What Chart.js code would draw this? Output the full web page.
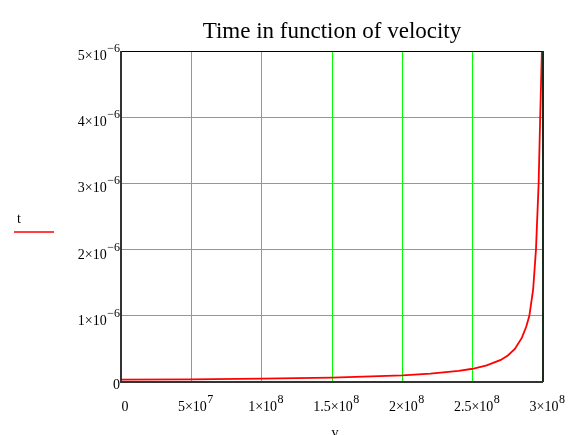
<!DOCTYPE html>
<html>
<head>
<meta charset="utf-8">
<script src="https://cdn.jsdelivr.net/npm/chart.js@4/dist/chart.umd.min.js"></script>
<style>
  html, body { margin: 0; padding: 0; background: #fff; }
  #chart { display: block; }
</style>
</head>
<body>
<canvas id="chart" width="571" height="435"></canvas>
<script>
// values
var velocity = [0, 0.5e8, 1e8, 1.5e8, 2e8, 2.2e8, 2.4e8, 2.5e8, 2.6e8, 2.7e8, 2.75e8, 2.8e8,
                2.85e8, 2.88e8, 2.903e8, 2.93e8, 2.95e8, 2.969e8, 2.98e8, 2.992e8];
var time = [0.035e-6, 0.04e-6, 0.05e-6, 0.067e-6, 0.10e-6, 0.125e-6, 0.167e-6, 0.2e-6, 0.25e-6,
            0.333e-6, 0.4e-6, 0.5e-6, 0.67e-6, 0.83e-6, 1.0e-6, 1.4e-6, 2.0e-6, 3.0e-6, 4.0e-6, 5.0e-6];

var xTicks = [0, 0.5e8, 1e8, 1.5e8, 2e8, 2.5e8, 3e8];
var xTickBase = ['0', '5\u00d710', '1\u00d710', '1.5\u00d710', '2\u00d710', '2.5\u00d710', '3\u00d710'];
var xTickExp = ['', '7', '8', '8', '8', '8', '8'];
var yTicks = [0, 1e-6, 2e-6, 3e-6, 4e-6, 5e-6];
var yTickBase = ['0', '1\u00d710', '2\u00d710', '3\u00d710', '4\u00d710', '5\u00d710'];
var yTickExp = ['', '\u22126', '\u22126', '\u22126', '\u22126', '\u22126'];

var titleText = 'Time in function of velocity';
var xTitle = 'v';
var seriesName = 't';

var serif = '"Liberation Serif", "Times New Roman", serif';

var points = velocity.map(function(v, i) { return { x: v, y: time[i] }; });

// draws title, tick labels with superscripts, frame and the little legend
var mathcadLabels = {
  id: 'mathcadLabels',
  afterDraw: function(c) {
    var ctx = c.ctx;
    var a = c.chartArea;
    var xs = c.scales.x, ys = c.scales.y;
    ctx.save();

    // frame
    ctx.lineWidth = 1;
    ctx.strokeStyle = '#000';
    ctx.beginPath();
    ctx.moveTo(a.left, a.top + 0.5);
    ctx.lineTo(a.right, a.top + 0.5);
    ctx.stroke();
    ctx.lineWidth = 2;
    ctx.strokeStyle = '#1c2a1c';
    ctx.beginPath();
    ctx.moveTo(a.right, a.top);
    ctx.lineTo(a.right, a.bottom);
    ctx.stroke();
    ctx.strokeStyle = '#333';
    ctx.beginPath();
    ctx.moveTo(a.left, a.top);
    ctx.lineTo(a.left, a.bottom);
    ctx.lineTo(a.right, a.bottom);
    ctx.stroke();

    ctx.fillStyle = '#000';
    ctx.textBaseline = 'alphabetic';

    // title
    ctx.font = '23px ' + serif;
    ctx.textAlign = 'center';
    ctx.fillText(titleText, (a.left + a.right) / 2, 38);

    // x tick labels
    xTicks.forEach(function(v, i) {
      var px = xs.getPixelForValue(v);
      ctx.font = '14px ' + serif;
      var wb = ctx.measureText(xTickBase[i]).width;
      ctx.font = '12px ' + serif;
      var we = ctx.measureText(xTickExp[i]).width;
      var left = px + 4 - (wb + we) / 2;
      ctx.textAlign = 'left';
      ctx.font = '14px ' + serif;
      ctx.fillText(xTickBase[i], left, 411);
      ctx.font = '12px ' + serif;
      ctx.fillText(xTickExp[i], left + wb + 0.5, 403);
    });

    // y tick labels
    yTicks.forEach(function(v, i) {
      var py = ys.getPixelForValue(v);
      ctx.textAlign = 'right';
      if (!yTickExp[i]) {
        ctx.font = '14px ' + serif;
        ctx.fillText(yTickBase[i], 120, py + 7);
        return;
      }
      ctx.font = '12px ' + serif;
      var we = ctx.measureText(yTickExp[i]).width;
      ctx.fillText(yTickExp[i], 120, py + 1);
      ctx.font = '14px ' + serif;
      ctx.fillText(yTickBase[i], 120 - we - 0.5, py + 9);
    });

    // axis title
    ctx.font = '14px ' + serif;
    ctx.textAlign = 'center';
    ctx.fillText(xTitle, 335, 437);

    // legend at the left
    ctx.fillText(seriesName, 19, 223);
    ctx.strokeStyle = '#ff0000';
    ctx.lineWidth = 1.5;
    ctx.beginPath();
    ctx.moveTo(14, 232);
    ctx.lineTo(54, 232);
    ctx.stroke();

    ctx.restore();
  }
};

var chart = new Chart(document.getElementById('chart').getContext('2d'), {
  type: 'scatter',
  data: {
    datasets: [{
      label: seriesName,
      data: points,
      showLine: true,
      borderColor: '#ff0000',
      borderWidth: 1.8,
      pointRadius: 0,
      tension: 0
    }]
  },
  options: {
    responsive: false,
    animation: false,
    events: [],
    layout: { padding: { left: 121, right: 28, top: 51, bottom: 53 } },
    plugins: { legend: { display: false }, title: { display: false }, tooltip: { enabled: false } },
    scales: {
      x: {
        type: 'linear',
        min: 0, max: 3e8,
        ticks: { display: false, stepSize: 0.5e8 },
        grid: { color: '#00ff00', lineWidth: 1, drawTicks: false },
        border: { display: false }
      },
      y: {
        type: 'linear',
        min: 0, max: 5e-6,
        ticks: { display: false, stepSize: 1e-6 },
        grid: { color: '#00ff00', lineWidth: 1, drawTicks: false },
        border: { display: false }
      }
    }
  },
  plugins: [mathcadLabels]
});
</script>
</body>
</html>
